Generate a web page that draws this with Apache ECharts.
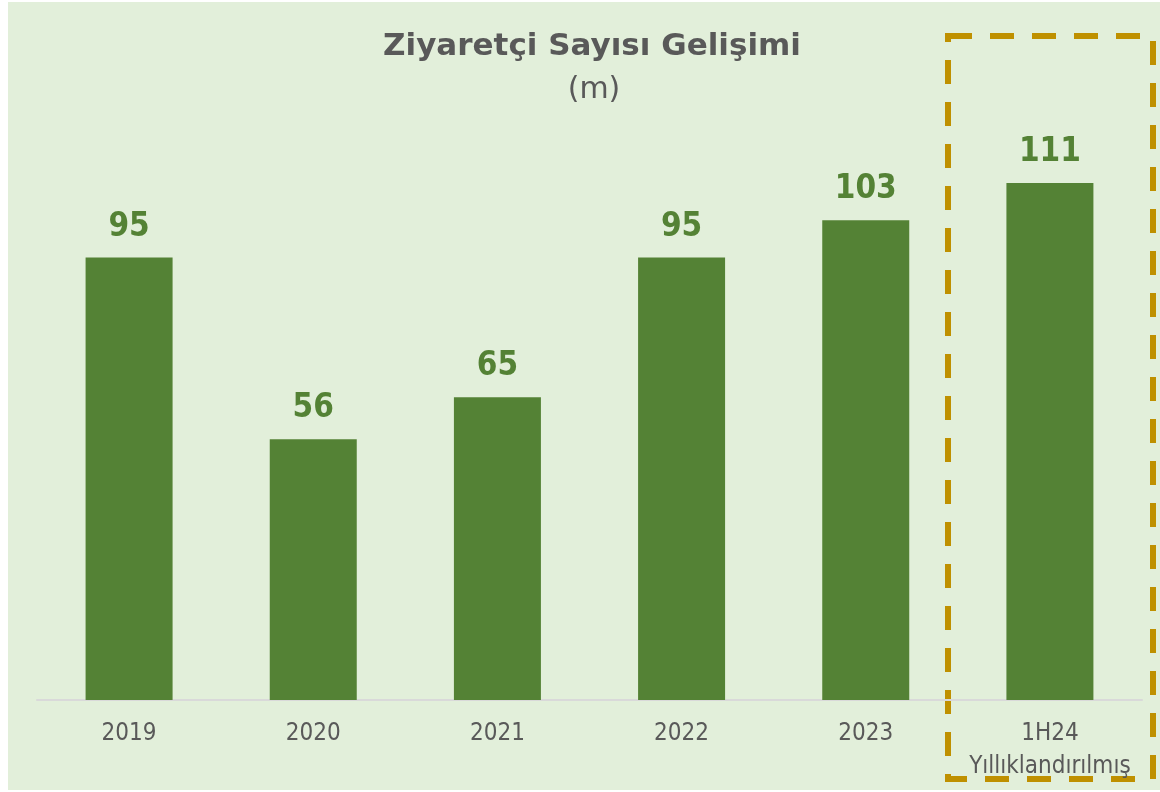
<!DOCTYPE html>
<html>
<head>
<meta charset="utf-8">
<script src="https://cdn.jsdelivr.net/npm/echarts@6/dist/echarts.min.js"></script>
<style>
    html, body { margin: 0; padding: 0; background: #ffffff; }
    #chart { position: absolute; left: 8px; top: 2px; width: 1152px; height: 788px; background: #E2EFDA; }
</style>
</head>
<body>
<div id="chart"></div>
<script>
// data
const categories = ['2019', '2020', '2021', '2022', '2023', '1H24\nYıllıklandırılmış'];
const visitors = [95, 56, 65, 95, 103, 111];

const mChart = echarts.init(document.getElementById('chart'));
const fontCond = '"DejaVu Sans Condensed", "DejaVu Sans", sans-serif';

const options = {
    animation: false,
    title: [
        {
            text: 'Ziyaretçi Sayısı Gelişimi',
            left: 579,
            top: 24,
            textAlign: 'center',
            textStyle: {
                color: '#595959',
                fontSize: 31,
                fontWeight: 'bold',
                fontFamily: '"DejaVu Sans", sans-serif'
            }
        },
        {
            text: '(m)',
            left: 581,
            top: 68,
            textAlign: 'center',
            textStyle: {
                color: '#595959',
                fontSize: 30,
                fontWeight: 'normal',
                fontFamily: '"DejaVu Sans", sans-serif'
            }
        }
    ],
    grid: {
        left: 29,
        right: 18,
        top: 139,
        bottom: 90
    },
    xAxis: {
        type: 'category',
        data: categories,
        axisLine: { lineStyle: { color: '#D9D9D9', width: 2 } },
        axisTick: { show: false },
        axisLabel: {
            interval: 0,
            color: '#595959',
            fontSize: 24,
            fontFamily: fontCond,
            lineHeight: 33,
            margin: 17
        }
    },
    yAxis: {
        type: 'value',
        min: 0,
        max: 120,
        show: false
    },
    series: [
        {
            type: 'bar',
            data: visitors,
            barWidth: 87,
            itemStyle: { color: '#548235' },
            label: {
                show: true,
                position: 'top',
                distance: 14,
                color: '#548235',
                fontSize: 33,
                fontWeight: 'bold',
                fontFamily: fontCond,
                lineHeight: 33
            }
        }
    ],
    graphic: [
        {
            // dashed highlight box around the last column
            type: 'rect',
            shape: { x: 940, y: 34, width: 205, height: 743 },
            style: {
                fill: 'none',
                stroke: '#BF9000',
                lineWidth: 6,
                lineDash: [24, 18]
            }
        }
    ]
};
mChart.setOption(options);
</script>
</body>
</html>
